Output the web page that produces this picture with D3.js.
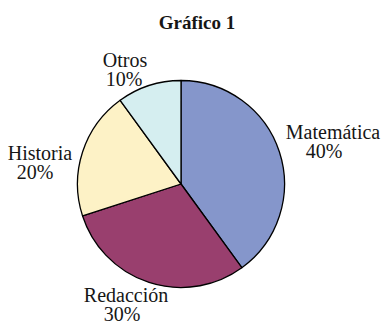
<!DOCTYPE html>
<html>
<head>
<meta charset="utf-8">
<script src="https://cdn.jsdelivr.net/npm/d3@7"></script>
<style>
  html, body { margin: 0; padding: 0; background: #fff; overflow: hidden; }
  svg { display: block; }
  svg text { font-family: "Liberation Serif", "DejaVu Serif", serif; fill: #161616; }
</style>
</head>
<body>
<svg id="chart" width="386" height="321"></svg>
<script>
// Distribution by subject
const categories = ["Matemática", "Redacción", "Historia", "Otros"];
const values = [40, 30, 20, 10];
const colors = ["#8596cb", "#993f6e", "#fdf2c6", "#d5eef0"];
const title = "Gráfico 1";

const svg = d3.select("#chart");
const cx = 181, cy = 184, r = 103.5;

svg.append("text")
  .attr("x", 197).attr("y", 29)
  .attr("text-anchor", "middle")
  .attr("font-weight", "bold")
  .attr("font-size", 19)
  .text(title);

const pie = d3.pie().sort(null).value(d => d)(values);
const arc = d3.arc().innerRadius(0).outerRadius(r);

const g = svg.append("g").attr("transform", `translate(${cx},${cy})`);
g.selectAll("path")
  .data(pie)
  .join("path")
  .attr("d", arc)
  .attr("fill", (d, i) => colors[i])
  .attr("stroke", "#000")
  .attr("stroke-width", 1.3)
  .attr("stroke-linejoin", "round");

// Label placement: centre of the name line and of the percent line
const labelPos = [
  { x: 333, y: 139, px: 324 },
  { x: 126, y: 302, px: 122 },
  { x: 40, y: 160, px: 35 },
  { x: 125, y: 67, px: 124 }
];

const lab = svg.selectAll("g.lbl")
  .data(pie)
  .join("g").attr("class", "lbl");
lab.append("text")
  .attr("x", (d, i) => labelPos[i].x)
  .attr("y", (d, i) => labelPos[i].y)
  .attr("text-anchor", "middle")
  .attr("font-size", 20)
  .text((d, i) => categories[i]);
lab.append("text")
  .attr("x", (d, i) => labelPos[i].px)
  .attr("y", (d, i) => labelPos[i].y + 18.5)
  .attr("text-anchor", "middle")
  .attr("font-size", 20)
  .text(d => d.data + "%");
</script>
</body>
</html>
